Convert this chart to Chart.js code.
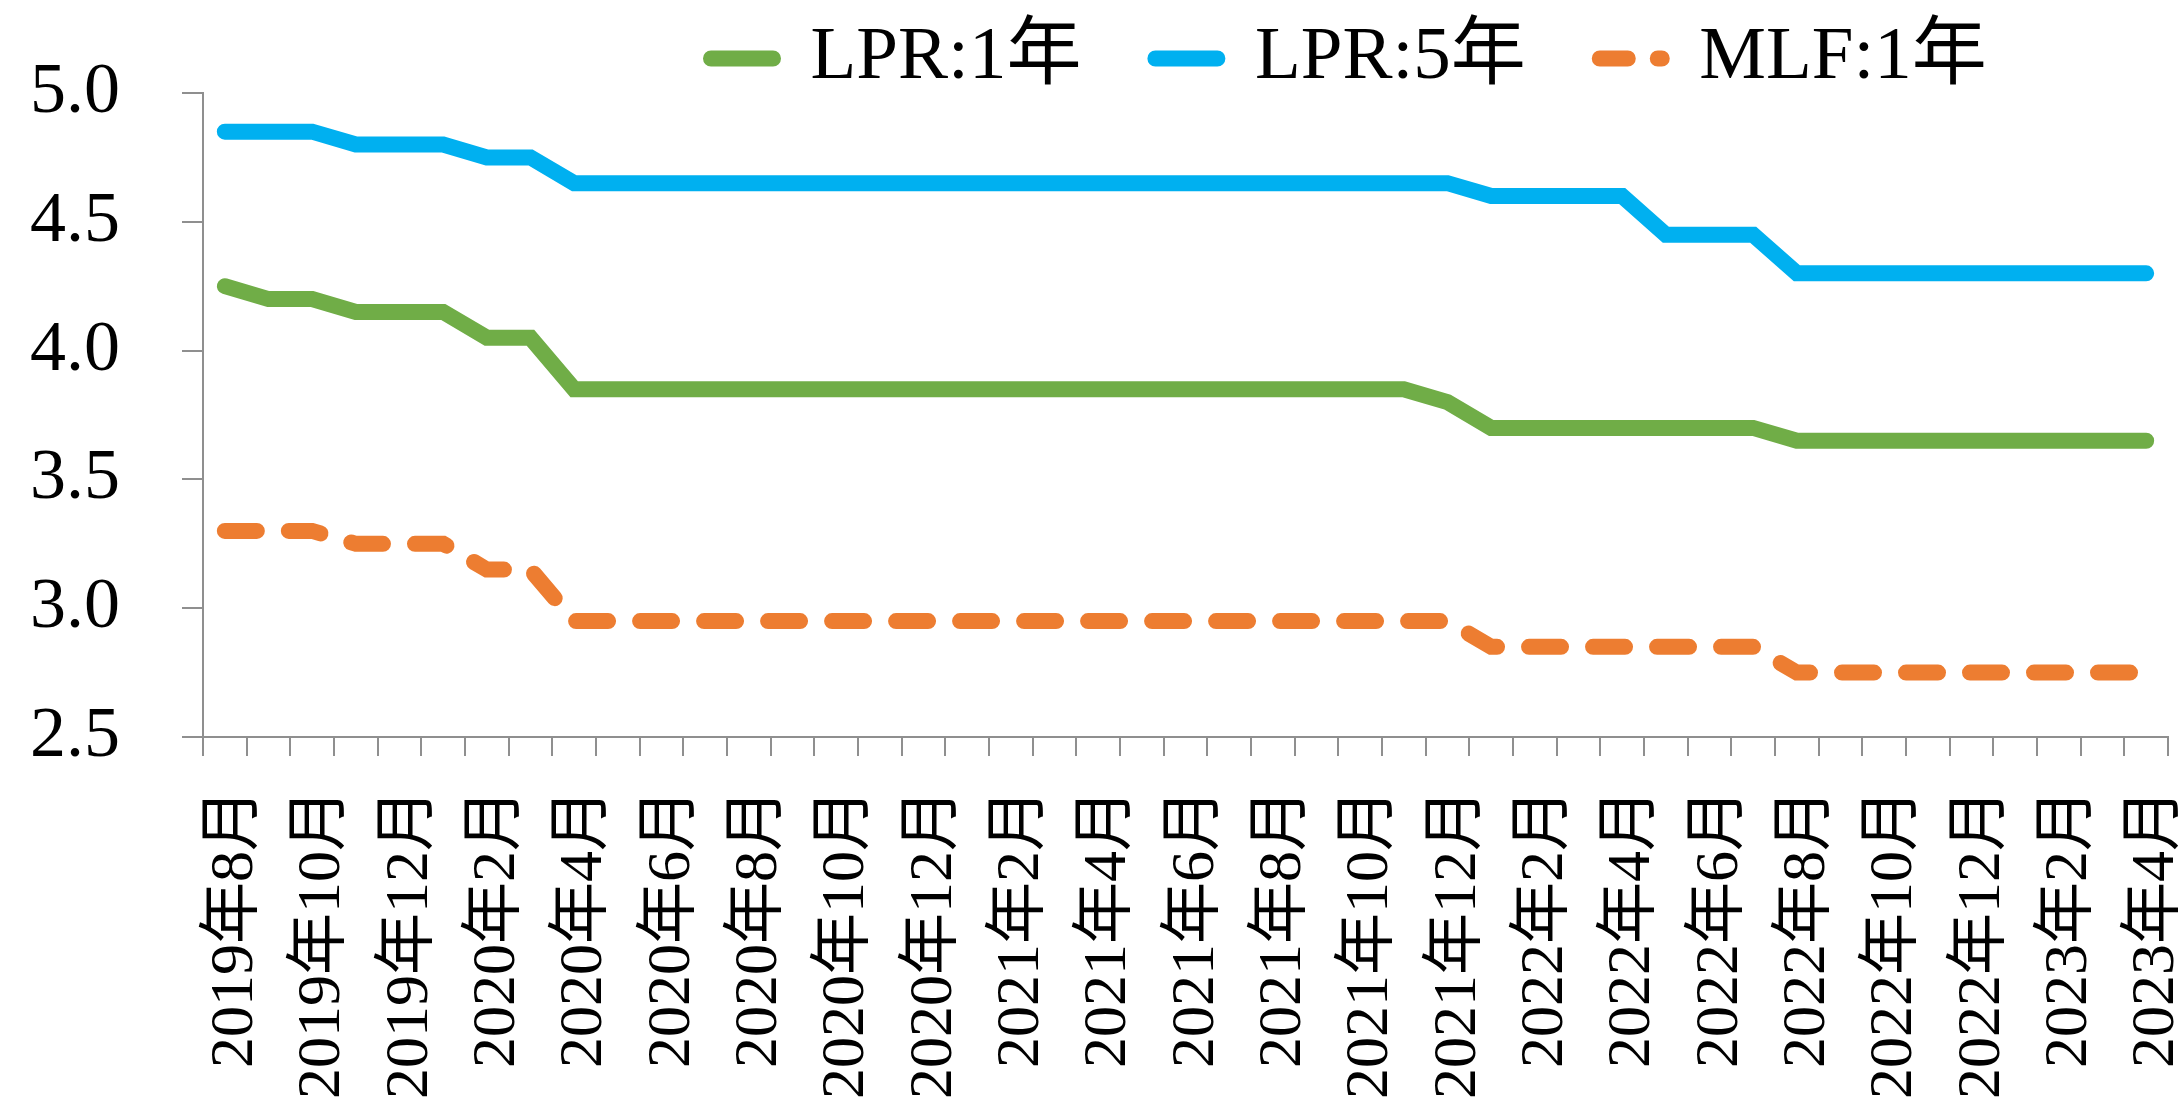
<!DOCTYPE html>
<html>
<head>
<meta charset="utf-8">
<script src="https://cdn.jsdelivr.net/npm/chart.js@4.4.1/dist/chart.umd.min.js"></script>
<style>
  html, body { margin: 0; padding: 0; background: #ffffff; }
  #wrap { width: 2181px; height: 1104px; position: relative; }
</style>
</head>
<body>
<div id="wrap"><canvas id="rates" width="2181" height="1104"></canvas></div>
<script>
// Monthly categories, Aug 2019 – Apr 2023
const months = [
  '2019年8月', '2019年9月', '2019年10月', '2019年11月', '2019年12月',
  '2020年1月', '2020年2月', '2020年3月', '2020年4月', '2020年5月', '2020年6月',
  '2020年7月', '2020年8月', '2020年9月', '2020年10月', '2020年11月', '2020年12月',
  '2021年1月', '2021年2月', '2021年3月', '2021年4月', '2021年5月', '2021年6月',
  '2021年7月', '2021年8月', '2021年9月', '2021年10月', '2021年11月', '2021年12月',
  '2022年1月', '2022年2月', '2022年3月', '2022年4月', '2022年5月', '2022年6月',
  '2022年7月', '2022年8月', '2022年9月', '2022年10月', '2022年11月', '2022年12月',
  '2023年1月', '2023年2月', '2023年3月', '2023年4月'
];

// 1-year LPR (%)
const lpr1y = [
  4.25, 4.20, 4.20, 4.15, 4.15,
  4.15, 4.05, 4.05, 3.85, 3.85, 3.85, 3.85, 3.85, 3.85, 3.85, 3.85, 3.85,
  3.85, 3.85, 3.85, 3.85, 3.85, 3.85, 3.85, 3.85, 3.85, 3.85, 3.85, 3.80,
  3.70, 3.70, 3.70, 3.70, 3.70, 3.70, 3.70, 3.65, 3.65, 3.65, 3.65, 3.65,
  3.65, 3.65, 3.65, 3.65
];

// 5-year LPR (%)
const lpr5y = [
  4.85, 4.85, 4.85, 4.80, 4.80,
  4.80, 4.75, 4.75, 4.65, 4.65, 4.65, 4.65, 4.65, 4.65, 4.65, 4.65, 4.65,
  4.65, 4.65, 4.65, 4.65, 4.65, 4.65, 4.65, 4.65, 4.65, 4.65, 4.65, 4.65,
  4.60, 4.60, 4.60, 4.60, 4.45, 4.45, 4.45, 4.30, 4.30, 4.30, 4.30, 4.30,
  4.30, 4.30, 4.30, 4.30
];

// 1-year MLF rate (%)
const mlf1y = [
  3.30, 3.30, 3.30, 3.25, 3.25,
  3.25, 3.15, 3.15, 2.95, 2.95, 2.95, 2.95, 2.95, 2.95, 2.95, 2.95, 2.95,
  2.95, 2.95, 2.95, 2.95, 2.95, 2.95, 2.95, 2.95, 2.95, 2.95, 2.95, 2.95,
  2.85, 2.85, 2.85, 2.85, 2.85, 2.85, 2.85, 2.75, 2.75, 2.75, 2.75, 2.75,
  2.75, 2.75, 2.75, 2.75
];

const seriesNames = ['LPR:1年', 'LPR:5年', 'MLF:1年'];

// Y axis range
const yMin = 2.5;
const yMax = 5.0;
const yStep = 0.5;

const FONT = "'Liberation Serif', 'Noto Sans CJK SC', serif";
const AXIS_GREY = '#8f8f8f';
const LINE_WIDTH = 16;

const LEGEND_LEFT = 637;     // legend box left edge
const LEGEND_TOP = -53;      // legend box top edge
const LEGEND_BOTTOM = 112;   // legend box bottom edge (drawing clip)
const LEGEND_GAP = 74;       // spacing between legend entries
const LEGEND_SWATCH = 62;    // length of the legend line swatch

// Places the legend row above the plot, right of centre
const legendPlacement = {
  id: 'legendPlacement',
  afterLayout(chart) {
    const lg = chart.legend;
    if (!lg) return;
    const w = lg.right - lg.left;
    lg.left = LEGEND_LEFT;
    lg.right = LEGEND_LEFT + w;
    lg.top = LEGEND_TOP;
    lg.bottom = LEGEND_BOTTOM;
    lg.height = LEGEND_BOTTOM - LEGEND_TOP;
  }
};

new Chart(document.getElementById('rates'), {
  type: 'line',
  data: {
    labels: months,
    datasets: [
      {
        label: seriesNames[0],
        data: lpr1y,
        borderColor: '#70ad47',
        backgroundColor: '#70ad47',
        borderWidth: LINE_WIDTH,
        borderCapStyle: 'round',
        borderJoinStyle: 'miter',
        pointRadius: 0,
        tension: 0
      },
      {
        label: seriesNames[1],
        data: lpr5y,
        borderColor: '#00b0f0',
        backgroundColor: '#00b0f0',
        borderWidth: LINE_WIDTH,
        borderCapStyle: 'round',
        borderJoinStyle: 'miter',
        pointRadius: 0,
        tension: 0
      },
      {
        label: seriesNames[2],
        data: mlf1y,
        borderColor: '#ed7d31',
        backgroundColor: '#ed7d31',
        borderWidth: LINE_WIDTH,
        borderDash: [32, 32],
        borderCapStyle: 'round',
        borderJoinStyle: 'miter',
        pointRadius: 0,
        tension: 0
      }
    ]
  },
  options: {
    responsive: false,
    animation: false,
    devicePixelRatio: 1,
    layout: { padding: { left: 30, right: 13, top: 0, bottom: 0 } },
    plugins: {
      tooltip: { enabled: false },
      legend: {
        position: 'top',
        align: 'start',
        maxHeight: 93,
        labels: {
          boxWidth: LEGEND_SWATCH,
          boxHeight: 0,
          padding: LEGEND_GAP,
          color: '#000000',
          font: { family: FONT, size: 75 },
          generateLabels(chart) {
            const items = Chart.defaults.plugins.legend.labels.generateLabels(chart);
            items.forEach(it => {
              it.lineJoin = 'round';
              // swatch is a flat box stroked out and back: dash + dot on the way out only
              if (it.lineDash && it.lineDash.length) {
                it.lineDash = [28, 30, 4, LEGEND_SWATCH];
              }
            });
            return items;
          }
        }
      }
    },
    scales: {
      x: {
        offset: true,
        grid: {
          offset: true,
          drawOnChartArea: false,
          drawTicks: true,
          tickLength: 19,
          color: AXIS_GREY,
          lineWidth: 2
        },
        border: { display: true, color: AXIS_GREY, width: 2 },
        ticks: {
          autoSkip: false,
          minRotation: 90,
          maxRotation: 90,
          padding: 33,
          labelOffset: 11,
          color: '#000000',
          font: { family: FONT, size: 62 },
          callback(value, index) {
            return index % 2 === 0 ? months[index] : '';
          }
        },
        afterFit(scale) {
          scale.height = 367;
          scale.paddingLeft = 0;
          scale.paddingRight = 0;
        }
      },
      y: {
        min: yMin,
        max: yMax,
        grid: {
          drawOnChartArea: false,
          drawTicks: true,
          tickLength: 21,
          color: AXIS_GREY,
          lineWidth: 2
        },
        border: { display: true, color: AXIS_GREY, width: 2 },
        ticks: {
          stepSize: yStep,
          padding: 62,
          color: '#000000',
          font: { family: FONT, size: 72 },
          callback(value) { return Number(value).toFixed(1); }
        },
        afterFit(scale) {
          scale.width = 173;
          scale.paddingTop = 0;
          scale.paddingBottom = 0;
        }
      }
    }
  },
  plugins: [legendPlacement]
});
</script>
</body>
</html>
